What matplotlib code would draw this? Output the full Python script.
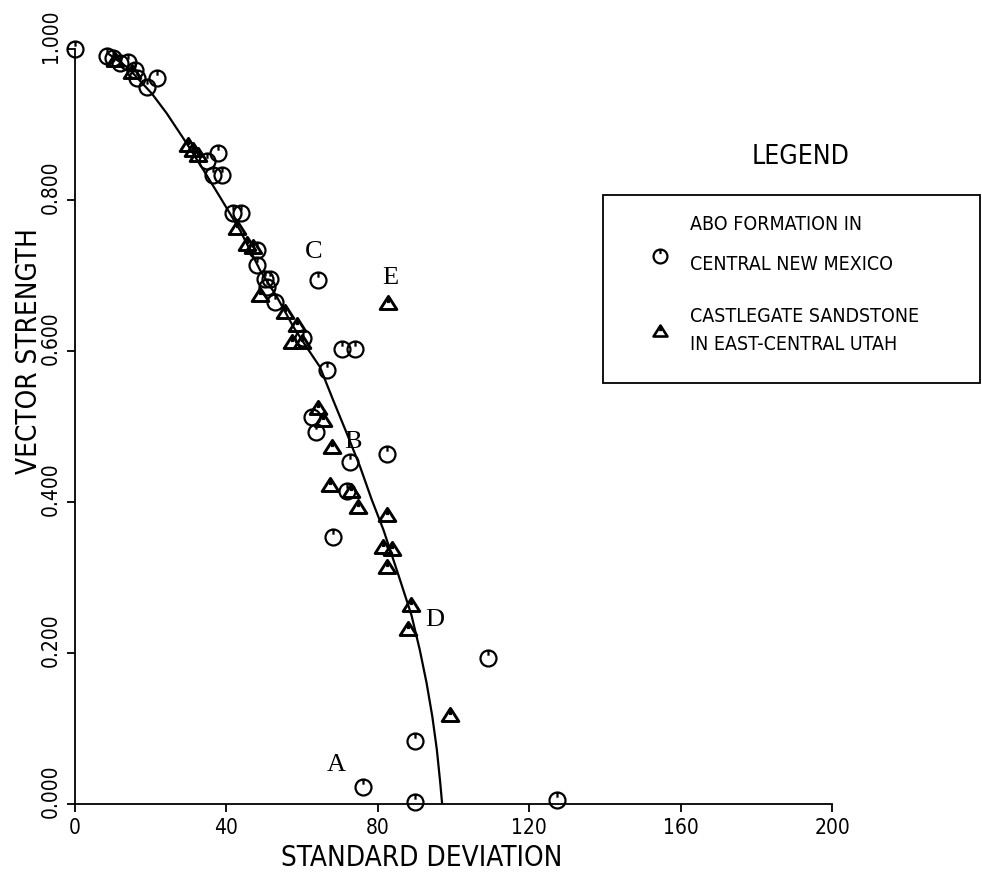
import matplotlib
matplotlib.use("Agg")
import matplotlib.pyplot as plt
from matplotlib.path import Path
from matplotlib import font_manager
import matplotlib.transforms as mtransforms

# ---------------- data ----------------
abo_x = [0, 8.5, 10.1, 11.9, 14.1, 15.9, 16.3, 18.9, 21.6, 34.8, 37.9, 36.5, 38.8,
         41.7, 43.9, 48.0, 48.0, 50.2, 51.5, 50.6, 52.8, 64.3, 60.3, 70.5, 74.0,
         66.5, 62.5, 63.8, 72.7, 82.3, 71.8, 68.2, 109.2, 89.8, 76.2, 89.8, 127.3]
abo_y = [1.0, 0.991, 0.988, 0.981, 0.983, 0.972, 0.961, 0.950, 0.961, 0.851, 0.862, 0.833, 0.833,
         0.783, 0.783, 0.734, 0.714, 0.696, 0.696, 0.685, 0.665, 0.694, 0.617, 0.603, 0.603,
         0.575, 0.513, 0.493, 0.453, 0.464, 0.414, 0.354, 0.193, 0.083, 0.023, 0.003, 0.005]

castle_x = [10.5, 15.0, 29.9, 31.3, 32.6, 42.7, 45.4, 47.1, 48.9, 55.5, 58.6, 57.2, 59.9,
            82.8, 64.3, 65.6, 67.8, 67.4, 73.0, 74.9, 82.3, 81.5, 83.7, 82.3, 88.9, 88.1, 99.1]
castle_y = [0.985, 0.970, 0.873, 0.866, 0.859, 0.763, 0.742, 0.738, 0.674, 0.652, 0.634, 0.612, 0.612,
            0.663, 0.524, 0.509, 0.473, 0.423, 0.415, 0.394, 0.383, 0.341, 0.338, 0.314, 0.264, 0.232, 0.118]

curve_x = [9, 14, 20.3, 24.2, 29.5, 33.9, 38.3, 43.6, 48.9, 53.3, 57.7, 61.2, 64.7, 68.2,
           71.8, 75.3, 78.4, 81.5, 85.6, 88.9, 91.1, 92.9, 94.4, 95.6, 96.5, 97.0]
curve_y = [0.993, 0.975, 0.941, 0.915, 0.875, 0.840, 0.804, 0.760, 0.707, 0.672, 0.632, 0.605,
           0.579, 0.535, 0.491, 0.447, 0.403, 0.363, 0.301, 0.250, 0.204, 0.160, 0.116, 0.072,
           0.028, 0.0]

point_labels = ["A", "B", "C", "D", "E"]
label_x = [69.1, 73.5, 63.0, 95.1, 83.2]
label_y = [0.052, 0.480, 0.731, 0.244, 0.697]

x_ticks = [0, 40, 80, 120, 160, 200]
y_ticks = [0.0, 0.2, 0.4, 0.6, 0.8, 1.0]

legend_lines = [["ABO FORMATION IN", "CENTRAL NEW MEXICO"],
                ["CASTLEGATE SANDSTONE", "IN EAST-CENTRAL UTAH"]]

# ---------------- fonts ----------------
def pick_narrow():
    for fam, stretch in [("DejaVu Sans", "condensed"), ("Liberation Sans Narrow", "normal"),
                         ("Roboto Condensed", "normal"), ("Open Sans Condensed", "normal")]:
        try:
            fp = font_manager.FontProperties(family=fam, stretch=stretch)
            f = font_manager.findfont(fp, fallback_to_default=False)
            if "ondensed" in f or "Narrow" in f:
                return fam, stretch
        except Exception:
            pass
    return "DejaVu Sans", "normal"

narrow, nstretch = pick_narrow()
avail = {f.name for f in font_manager.fontManager.ttflist}
serif = "Liberation Serif" if "Liberation Serif" in avail else "DejaVu Serif"
NF = dict(family=narrow, stretch=nstretch)

# ---------------- markers ----------------
circ = Path.unit_circle()
tick = Path([[0, 1.0], [0, 0.35]], [Path.MOVETO, Path.LINETO])
circle_marker = Path.make_compound_path(circ, tick)
tri = Path([[-1, -0.72], [1, -0.72], [0, 0.85], [-1, -0.72]],
           [Path.MOVETO, Path.LINETO, Path.LINETO, Path.CLOSEPOLY])
tri_tick = Path([[0, 0.85], [0, 0.05]], [Path.MOVETO, Path.LINETO])
tri_marker = Path.make_compound_path(tri, tri_tick)

W, H = 982, 875
fig = plt.figure(figsize=(W / 100, H / 100), dpi=100)
ax = fig.add_axes([75 / W, 1 - 804 / H, 757 / W, 755 / H])

ax.plot(curve_x, curve_y, color="black", lw=1.6, zorder=2, solid_joinstyle="round")
ax.plot(abo_x, abo_y, linestyle="none", marker=circle_marker, markersize=11.5,
        markerfacecolor="none", markeredgecolor="black", markeredgewidth=1.6, zorder=3,
        clip_on=False)
ax.plot(castle_x, castle_y, linestyle="none", marker=tri_marker, markersize=12,
        markerfacecolor="none", markeredgecolor="black", markeredgewidth=2.1, zorder=3,
        clip_on=False)

for t, x, y in zip(point_labels, label_x, label_y):
    ax.text(x, y, t, family=serif, fontsize=19, ha="center", va="center")

ax.set_xlim(0, 200)
ax.set_ylim(0, 1.0)
for s in ["top", "right"]:
    ax.spines[s].set_visible(False)
ax.spines["left"].set_linewidth(1.3)
ax.spines["bottom"].set_linewidth(1.3)

ax.set_xticks(x_ticks)
ax.set_xticklabels([str(v) for v in x_ticks], fontsize=15, **NF)
ax.set_yticks(y_ticks)
ax.set_yticklabels(["%.3f" % v for v in y_ticks], fontsize=15,
                   rotation=90, va="bottom", **NF)
ax.tick_params(axis="both", direction="out", length=6, width=1.3)
ax.tick_params(axis="x", pad=4)
ax.tick_params(axis="y", pad=4)
off = mtransforms.ScaledTranslation(0, -14 / 100, fig.dpi_scale_trans)
for lab in ax.get_yticklabels():
    lab.set_transform(lab.get_transform() + off)

ax.set_xlabel("STANDARD DEVIATION", fontsize=20, va="center", **NF)
ax.xaxis.set_label_coords(91.7 / 200, (804 - 858) / 755)
ax.set_ylabel("VECTOR STRENGTH", fontsize=20, va="center", **NF)
ax.yaxis.set_label_coords((29 - 75) / 757, 0.60)

# ---------------- legend ----------------
def fx(px):
    return px / W

def fy(py):
    return 1 - py / H

fig.text(fx(801), fy(157), "LEGEND", fontsize=19, ha="center", va="center", **NF)
box = plt.Rectangle((fx(603), fy(383)), fx(980) - fx(603), fy(195) - fy(383),
                    transform=fig.transFigure, fill=False, lw=1.3, edgecolor="black")
fig.add_artist(box)
fig.lines.append(plt.Line2D([fx(660)], [fy(256)], transform=fig.transFigure,
                            marker=circle_marker, markersize=10, markerfacecolor="none",
                            markeredgecolor="black", markeredgewidth=1.6, linestyle="none"))
fig.lines.append(plt.Line2D([fx(660)], [fy(331)], transform=fig.transFigure,
                            marker=tri_marker, markersize=10, markerfacecolor="none",
                            markeredgecolor="black", markeredgewidth=1.9, linestyle="none"))
ys = [(224, 264), (317, 344)]
for (l1, l2), (y1, y2) in zip(legend_lines, ys):
    fig.text(fx(690), fy(y1), l1, fontsize=14, ha="left", va="center", **NF)
    fig.text(fx(690), fy(y2), l2, fontsize=14, ha="left", va="center", **NF)

fig.savefig("out.png", dpi=100)
